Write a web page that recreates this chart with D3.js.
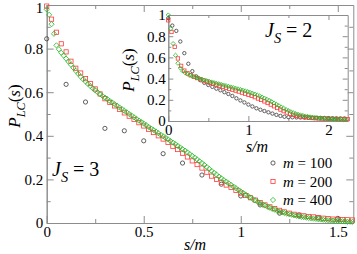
<!DOCTYPE html>
<html>
<head>
<meta charset="utf-8">
<script src="https://cdn.jsdelivr.net/npm/d3@7"></script>
<style>
  body { margin: 0; background: #fff; }
  .axis path, .axis line { stroke: #8c8c8c; stroke-width: 1; }
  .axis text { fill: #000; }
</style>
</head>
<body>
<script>

// ---- data, main panel (J_S = 3) ----
// m = 100, every 0.1 in s/m
var mainX100 = [0,0.1,0.2,0.3,0.4,0.5,0.6,0.7,0.8,0.9,1.0,1.1,1.2,1.3,1.4,1.5];
var mainY100 = [0.845,0.636,0.555,0.434,0.423,0.377,0.318,0.275,0.22,0.178,0.124,0.083,0.045,0.037,0.024,0.021];

// m = 200, every 0.025
var mainStep200 = 0.025;
var mainY200 = [0.995,0.935,0.875,0.822,0.785,0.742,0.71,0.688,0.662,0.64,0.615,0.592,0.57,0.553,0.537,0.521,
  0.505,0.49,0.475,0.46,0.445,0.43,0.415,0.4,0.385,0.37,0.352,0.337,0.32,0.303,0.285,0.268,
  0.252,0.233,0.215,0.2,0.186,0.174,0.163,0.15,0.137,0.126,0.116,0.105,0.094,0.083,0.074,0.066,
  0.058,0.051,0.045,0.04,0.036,0.033,0.03,0.028,0.025,0.022,0.02,0.018,0.017,0.016,0.015,0.014];

// m = 400, every 0.0125
var mainStep400 = 0.0125;
var mainY400 = [0.98,0.955,0.912,0.868,0.815,0.797,0.781,0.768,0.754,0.74,0.726,0.712,0.698,0.684,0.671,0.66,
  0.649,0.638,0.628,0.618,0.609,0.6,0.591,0.583,0.575,0.568,0.56,0.553,0.545,0.538,0.53,0.523,
  0.515,0.508,0.5,0.493,0.485,0.478,0.47,0.463,0.456,0.449,0.441,0.434,0.427,0.42,0.412,0.405,
  0.398,0.391,0.384,0.376,0.369,0.362,0.354,0.347,0.339,0.332,0.324,0.316,0.308,0.3,0.292,0.283,
  0.275,0.266,0.257,0.248,0.239,0.23,0.222,0.213,0.205,0.197,0.19,0.182,0.175,0.167,0.16,0.152,
  0.145,0.138,0.131,0.124,0.117,0.11,0.103,0.097,0.09,0.085,0.08,0.075,0.07,0.065,0.061,0.056,
  0.052,0.049,0.046,0.043,0.04,0.038,0.035,0.033,0.03,0.028,0.027,0.025,0.023,0.022,0.02,0.019,
  0.017,0.016,0.015,0.014,0.013,0.012,0.011,0.01,0.009,0.009,0.008,0.007,0.006,0.006,0.005];

// ---- data, inset (J_S = 2) ----
var insStep100 = 0.05;
var insY100 = [0.97,0.9,0.85,0.75,0.64,0.54,0.47,0.42,0.385,0.36,0.34,0.322,0.305,0.29,0.272,0.255,
  0.236,0.214,0.194,0.175,0.155,0.137,0.12,0.106,0.094,0.082,0.07,0.058,0.048,0.04,0.036,0.035,
  0.034,0.033,0.032,0.031,0.03,0.03,0.029,0.028,0.027,0.026,0.025,0.024,0.024];

var insStep200 = 0.04;
var insY200 = [0.95,0.84,0.7,0.59,0.52,0.475,0.45,0.432,0.418,0.405,0.393,0.382,0.371,0.361,0.351,0.341,
  0.332,0.323,0.314,0.305,0.296,0.287,0.278,0.268,0.258,0.248,0.237,0.225,0.212,0.199,0.185,0.17,
  0.155,0.139,0.123,0.108,0.093,0.08,0.068,0.058,0.05,0.043,0.038,0.034,0.031,0.028,0.026,0.024,
  0.023,0.022,0.021,0.02,0.02,0.019,0.019,0.018,0.018];

var insStep400 = 0.03;
var insY400 = [1.0,0.87,0.73,0.62,0.545,0.5,0.472,0.455,0.442,0.432,0.423,0.415,0.407,0.4,0.393,0.386,
  0.38,0.374,0.368,0.362,0.356,0.351,0.345,0.339,0.333,0.327,0.321,0.315,0.309,0.303,0.297,0.29,
  0.284,0.277,0.27,0.262,0.254,0.245,0.236,0.226,0.216,0.205,0.194,0.182,0.17,0.157,0.145,0.132,
  0.12,0.108,0.097,0.087,0.078,0.07,0.063,0.057,0.052,0.047,0.043,0.039,0.036,0.033,0.03,0.028,
  0.026,0.024,0.022,0.02,0.019,0.018,0.017,0.016,0.015,0.014,0.013];

// ticks and labels
var mainXMajor = [0, 0.5, 1, 1.5];
var mainXMinor = [0.25, 0.75, 1.25];
var mainYMajor = [0, 0.2, 0.4, 0.6, 0.8, 1];
var mainYMinor = [0.1, 0.3, 0.5, 0.7, 0.9];
var insXMajor = [0, 1, 2];
var insXMinor = [0.5, 1.5];
var insYMajor = [0, 0.2, 0.4, 0.6, 0.8, 1];
var insYMinor = [0.1, 0.3, 0.5, 0.7, 0.9];
var legendLabels = ["100", "200", "400"];

var colors = ["#3a3a3a", "#ff3b3b", "#22b822"];
var shapes = ["circle", "square", "diamond"];
var serif = "'Liberation Serif', 'Times New Roman', Tinos, 'DejaVu Serif', serif";

function stepped(ys, step) {
  return ys.map(function(y, i) { return [i * step, y]; });
}

var width = 357, height = 254;
var svg = d3.select("body").append("svg")
    .attr("width", width)
    .attr("height", height);

// draw one marker
function marker(g, shape, cx, cy, s, color) {
  if (shape === "circle") {
    g.append("circle").attr("cx", cx).attr("cy", cy).attr("r", s * 0.5)
      .attr("fill", "none").attr("stroke", color).attr("stroke-width", 0.8);
  } else if (shape === "square") {
    g.append("rect").attr("x", cx - s / 2).attr("y", cy - s / 2)
      .attr("width", s).attr("height", s)
      .attr("fill", "none").attr("stroke", color).attr("stroke-width", 0.8);
  } else {
    var h = s * 0.62;
    g.append("path")
      .attr("d", "M" + cx + "," + (cy - h) + "L" + (cx + h) + "," + cy + "L" + cx + "," + (cy + h) + "L" + (cx - h) + "," + cy + "Z")
      .attr("fill", "none").attr("stroke", color).attr("stroke-width", 0.8);
  }
}

// frame with inward ticks on all four sides
function frame(g, x, y, xMaj, xMin, yMaj, yMin, majLen, minLen, fontSize, xPad, yPad) {
  var r = x.range(), t = y.range();
  g.append("g").attr("class", "axis").attr("transform", "translate(0," + t[0] + ")")
    .call(d3.axisBottom(x).tickValues(xMin).tickSize(-minLen).tickSizeOuter(0).tickFormat(""));
  g.append("g").attr("class", "axis").attr("transform", "translate(0," + t[0] + ")")
    .call(d3.axisBottom(x).tickValues(xMaj).tickSize(-majLen).tickSizeOuter(0).tickPadding(xPad).tickFormat(function(d) { return String(d); }))
    .selectAll("text").attr("font-size", fontSize);
  g.append("g").attr("class", "axis").attr("transform", "translate(0," + t[1] + ")")
    .call(d3.axisTop(x).tickValues(xMaj.concat(xMin)).tickSize(-majLen).tickSizeOuter(0).tickFormat(""))
    .selectAll("line").attr("y2", function(d) { return xMin.indexOf(d) >= 0 ? minLen : majLen; });
  g.append("g").attr("class", "axis").attr("transform", "translate(" + r[0] + ",0)")
    .call(d3.axisLeft(y).tickValues(yMin).tickSize(-minLen).tickSizeOuter(0).tickFormat(""));
  var yl = g.append("g").attr("class", "axis yl").attr("transform", "translate(" + r[0] + ",0)")
    .call(d3.axisLeft(y).tickValues(yMaj).tickSize(-majLen).tickSizeOuter(0).tickPadding(yPad).tickFormat(function(d) { return String(d); }));
  yl.selectAll("text").attr("font-size", fontSize);
  g.append("g").attr("class", "axis").attr("transform", "translate(" + r[1] + ",0)")
    .call(d3.axisRight(y).tickValues(yMaj.concat(yMin)).tickSize(-majLen).tickSizeOuter(0).tickFormat(""))
    .selectAll("line").attr("x2", function(d) { return yMin.indexOf(d) >= 0 ? -minLen : -majLen; });
  return yl;
}

function pLabel(g, x, y, size) {
  var t = g.append("text")
    .attr("transform", "translate(" + x + "," + y + ") rotate(-90)")
    .attr("text-anchor", "middle")
    .attr("font-size", size);
  t.append("tspan").attr("font-style", "italic").text("P");
  t.append("tspan").attr("font-style", "italic").attr("font-size", size * 0.72).attr("dy", size * 0.28).text("LC");
  t.append("tspan").attr("dy", -size * 0.28).text("(");
  t.append("tspan").attr("font-style", "italic").text("s");
  t.append("tspan").text(")");
}

function jLabel(g, x, y, size, val) {
  var t = g.append("text").attr("x", x).attr("y", y).attr("font-size", size);
  t.append("tspan").attr("font-style", "italic").text("J");
  t.append("tspan").attr("font-style", "italic").attr("font-size", size * 0.72).attr("dy", size * 0.3).text("S");
  t.append("tspan").attr("dy", -size * 0.3).text(" = " + val);
}

function smLabel(g, x, y, size) {
  g.append("text").attr("x", x).attr("y", y).attr("text-anchor", "middle")
    .attr("font-size", size).attr("font-style", "italic").text("s/m");
}

// ---- main panel ----
var x = d3.scaleLinear().domain([0, 1.58]).range([46.7, 353.3]);
var y = d3.scaleLinear().domain([0, 1]).range([223, 5]);

var gMain = svg.append("g");
var mainYl = frame(gMain, x, y, mainXMajor, mainXMinor, mainYMajor, mainYMinor, 7, 4, 15, 3.5, 3.5);
// keep the top "1" inside the picture
mainYl.selectAll("text").filter(function(d) { return d === 1; }).attr("y", 2.5);

var mainSeries = [
  mainX100.map(function(v, i) { return [v, mainY100[i]]; }),
  stepped(mainY200, mainStep200),
  stepped(mainY400, mainStep400)
];
var gPts = svg.append("g");
mainSeries.forEach(function(pts, k) {
  pts.forEach(function(p) { marker(gPts, shapes[k], x(p[0]), y(p[1]), 4.2, colors[k]); });
});

pLabel(svg, 20, 106, 17);
smLabel(svg, 195, 250, 16);
jLabel(svg, 52, 176, 20, "3");

// legend
legendLabels.forEach(function(lab, i) {
  var cy = 163 + i * 18.5;
  marker(svg, shapes[i], 273, cy, 4.2, colors[i]);
  var t = svg.append("text").attr("x", 283).attr("y", cy + 5).attr("font-size", 15);
  t.append("tspan").attr("font-style", "italic").text("m");
  t.append("tspan").text(" = " + lab);
});

// ---- inset ----
var xi = d3.scaleLinear().domain([0, 2.24]).range([168.3, 347.7]);
var yi = d3.scaleLinear().domain([0, 1]).range([121, 15]);

var gIns = svg.append("g");
gIns.append("rect").attr("x", 168.3).attr("y", 15).attr("width", 347.7 - 168.3).attr("height", 106).attr("fill", "#fff");
frame(gIns, xi, yi, insXMajor, insXMinor, insYMajor, insYMinor, 5, 3, 15, 3.5, 2.5);

var insSeries = [stepped(insY100, insStep100), stepped(insY200, insStep200), stepped(insY400, insStep400)];
insSeries.forEach(function(pts, k) {
  pts.forEach(function(p) { marker(gIns, shapes[k], xi(p[0]), yi(p[1]), 3.4, colors[k]); });
});

pLabel(svg, 134, 70, 17);
smLabel(svg, 257, 152, 16);
jLabel(svg, 265, 36.5, 20, "2");

// serif everywhere, overriding the axis defaults
svg.selectAll("g.axis").attr("font-family", null);
svg.selectAll("text").attr("font-family", serif).style("font-family", serif);

</script>
</body>
</html>
